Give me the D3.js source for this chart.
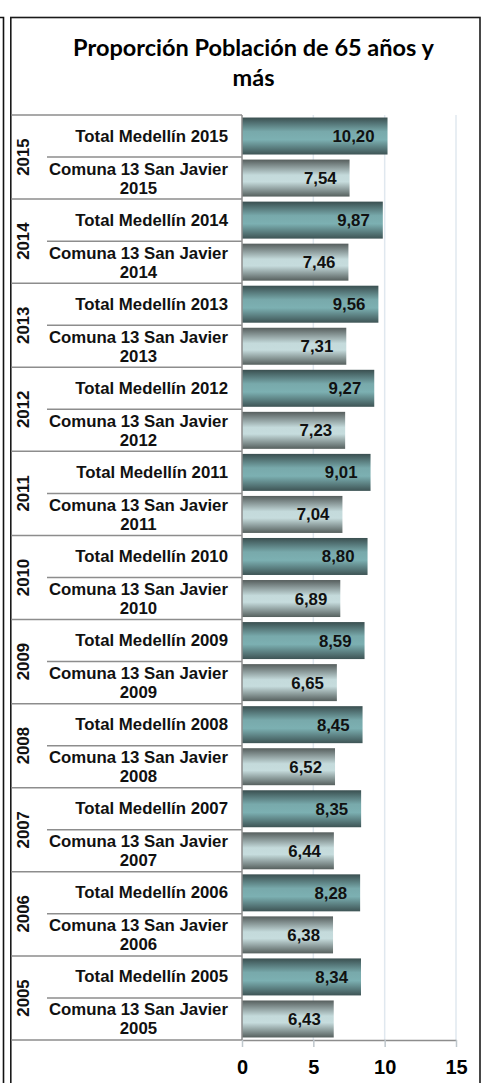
<!DOCTYPE html>
<html>
<head>
<meta charset="utf-8">
<script src="https://cdn.jsdelivr.net/npm/d3@7"></script>
<style>
  body { margin: 0; background: #fff; }
  svg { display: block; }
</style>
</head>
<body>
<svg width="486" height="1083"></svg>
<script>
'use strict';

const years = [2015, 2014, 2013, 2012, 2011, 2010, 2009, 2008, 2007, 2006, 2005];
const totalMedellin = [10.20, 9.87, 9.56, 9.27, 9.01, 8.80, 8.59, 8.45, 8.35, 8.28, 8.34];
const comuna13 = [7.54, 7.46, 7.31, 7.23, 7.04, 6.89, 6.65, 6.52, 6.44, 6.38, 6.43];
const xTicks = [0, 5, 10, 15];

// one row per bar, top to bottom
const rows = [];
years.forEach((yr, i) => {
  rows.push({ id: 'T' + yr, year: yr, kind: 'total', value: totalMedellin[i] });
  rows.push({ id: 'C' + yr, year: yr, kind: 'comuna', value: comuna13[i] });
});

const svg = d3.select('svg');
const labelFont = '"Liberation Sans", Arial, sans-serif';

const x = d3.scaleLinear().domain([0, 15]).range([242, 456]);
const y = d3.scaleBand()
    .domain(rows.map(d => d.id))
    .range([115, 1040])
    .paddingInner(0.12)
    .paddingOuter(0.06);
const step = y.step();
const rowTop = id => y(id) - step * 0.06;

// gradients
const defs = svg.append('defs');
const grads = {
  total: [['0', '#3a4f50'], ['0.38', '#78a9ab'], ['0.6', '#7cb0b2'], ['1', '#3e5455']],
  comuna: [['0', '#565e5d'], ['0.42', '#c4dadb'], ['0.6', '#c6dcdd'], ['1', '#56605e']]
};
Object.keys(grads).forEach(k => {
  const g = defs.append('linearGradient')
      .attr('id', 'g-' + k)
      .attr('x1', 0).attr('y1', 0).attr('x2', 0).attr('y2', 1);
  grads[k].forEach(s => g.append('stop').attr('offset', s[0]).attr('stop-color', s[1]));
});

// frames
svg.append('path')
    .attr('d', 'M0,17.5 H3.5 V1083')
    .attr('fill', 'none').attr('stroke', '#111').attr('stroke-width', 1.6);
svg.append('rect')
    .attr('x', 10.8).attr('y', 17.5)
    .attr('width', 469.2).attr('height', 1080)
    .attr('fill', 'none').attr('stroke', '#1a1a1a').attr('stroke-width', 1.6);

// title
const title = svg.append('text')
    .attr('x', 253.5)
    .attr('text-anchor', 'middle')
    .style('font-family', 'Lato, Carlito, Calibri, sans-serif')
    .style('font-weight', 'bold')
    .style('font-size', '23.5px')
    .attr('fill', '#000');
title.append('tspan').attr('x', 253.5).attr('y', 56).text('Proporción Población de 65 años y');
title.append('tspan').attr('x', 253.5).attr('y', 86).text('más');

// gridlines
svg.append('g')
  .selectAll('line')
  .data(xTicks.filter(t => t > 0))
  .enter()
  .append('line')
    .attr('x1', d => x(d)).attr('x2', d => x(d))
    .attr('y1', 115).attr('y2', 1040)
    .attr('stroke', '#e0e8ef').attr('stroke-width', 1.5);

// bars
svg.selectAll('.bar')
    .data(rows)
    .enter()
    .append('rect')
        .attr('class', 'bar')
        .attr('x', x(0))
        .attr('y', d => y(d.id))
        .attr('width', d => x(d.value) - x(0))
        .attr('height', y.bandwidth())
        .attr('fill', d => `url(#g-${d.kind})`);

// value labels
svg.selectAll('.val')
    .data(rows)
    .enter()
    .append('text')
        .attr('class', 'val')
        .attr('x', d => x(d.value) - 13)
        .attr('y', d => y(d.id) + y.bandwidth() / 2 + 6)
        .attr('text-anchor', 'end')
        .style('font-family', labelFont)
        .style('font-weight', 'bold')
        .style('font-size', '16.8px')
        .attr('fill', '#111')
        .text(d => d.value.toFixed(2).replace('.', ','));

// category table lines
const tbl = svg.append('g').attr('stroke', '#8d8d8d').attr('stroke-width', 1.5);
tbl.append('line').attr('x1', 11.5).attr('x2', 242).attr('y1', 115).attr('y2', 115);
rows.forEach(d => {
  const yy = rowTop(d.id) + step;
  tbl.append('line')
      .attr('x1', d.kind === 'comuna' ? 11.5 : 47)
      .attr('x2', 242)
      .attr('y1', yy).attr('y2', yy);
});
tbl.append('line').attr('x1', 242).attr('x2', 242).attr('y1', 115).attr('y2', 1040);

// x axis
const xAxis = svg.append('g')
    .attr('transform', 'translate(0,1040)')
    .call(d3.axisBottom(x).tickValues(xTicks).tickSize(7).tickSizeOuter(0).tickPadding(13));
xAxis.select('.domain').attr('stroke', '#8d8d8d').attr('stroke-width', 1.5);
xAxis.selectAll('.tick line').attr('stroke', '#bfc7cc').attr('stroke-width', 1.5);
xAxis.selectAll('.tick text')
    .style('font-family', labelFont)
    .style('font-weight', 'bold')
    .style('font-size', '20px')
    .attr('fill', '#000');

// category labels
const cat = svg.append('g')
    .style('font-family', labelFont)
    .style('font-weight', 'bold')
    .style('font-size', '16.8px')
    .attr('fill', '#111');
rows.forEach(d => {
  const cy = rowTop(d.id) + step / 2;
  if (d.kind === 'total') {
    cat.append('text')
        .attr('x', 228).attr('y', cy + 5.5)
        .attr('text-anchor', 'end')
        .text('Total Medellín ' + d.year);
  } else {
    const t1 = cat.append('text')
        .attr('x', 228).attr('y', cy - 3.5)
        .attr('text-anchor', 'end')
        .text('Comuna 13 San Javier');
    const w = t1.node().getComputedTextLength();
    cat.append('text')
        .attr('x', 228 - w / 2).attr('y', cy + 15.5)
        .attr('text-anchor', 'middle')
        .text(d.year);
  }
});

// year group labels
svg.append('g')
  .selectAll('text')
  .data(years)
  .enter()
  .append('text')
    .attr('transform', d => `translate(28.5, ${rowTop('T' + d) + step}) rotate(-90)`)
    .attr('text-anchor', 'middle')
    .style('font-family', labelFont)
    .style('font-weight', 'bold')
    .style('font-size', '16.8px')
    .attr('fill', '#111')
    .text(d => d);
</script>
</body>
</html>
